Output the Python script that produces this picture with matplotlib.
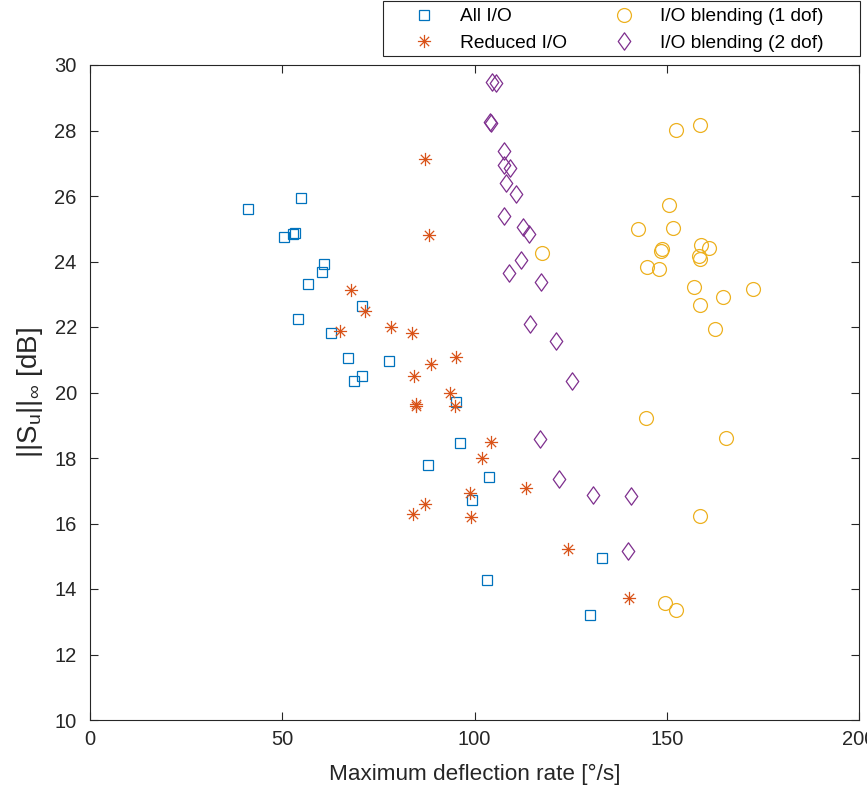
import numpy as np
import matplotlib
matplotlib.use("Agg")
import matplotlib.pyplot as plt
from matplotlib.path import Path
from matplotlib.patches import Rectangle

plt.rcParams['font.family'] = ['Liberation Sans', 'DejaVu Sans']
plt.rcParams['mathtext.fontset'] = 'custom'
plt.rcParams['mathtext.rm'] = 'Liberation Sans'
plt.rcParams['mathtext.it'] = 'Liberation Sans'
plt.rcParams['mathtext.default'] = 'regular'

# ---- data ----
all_io_x = [41.0, 50.4, 52.9, 53.2, 54.8, 60.3, 60.8, 56.7, 70.7, 54.1, 62.7, 67.0,
            68.6, 70.8, 77.7, 88.0, 95.1, 96.3, 103.7, 99.4, 133.2, 103.3, 130.1]
all_io_y = [25.61, 24.76, 24.83, 24.87, 25.95, 23.68, 23.91, 23.32, 22.64, 22.24, 21.81, 21.05,
            20.34, 20.51, 20.97, 17.78, 19.70, 18.46, 17.43, 16.72, 14.94, 14.27, 13.21]

reduced_x = [87.2, 88.1, 67.8, 71.4, 65.0, 78.2, 83.8, 84.2, 88.7, 84.7, 84.9, 95.1,
             93.6, 94.9, 104.3, 101.9, 98.8, 99.2, 83.9, 87.1, 113.5, 124.2, 140.1]
reduced_y = [27.14, 24.82, 23.12, 22.49, 21.88, 22.01, 21.83, 20.50, 20.86, 19.60, 19.64, 21.08,
             19.98, 19.59, 18.49, 18.00, 16.93, 16.21, 16.30, 16.60, 17.08, 15.21, 13.73]

blend1_x = [152.4, 158.7, 150.5, 142.5, 151.5, 117.6, 148.8, 148.4, 158.9, 160.9, 158.3, 158.6,
            144.9, 148.1, 157.0, 172.5, 164.5, 158.6, 162.5, 144.7, 165.5, 158.7, 149.5, 152.4]
blend1_y = [28.02, 28.18, 25.73, 25.00, 25.03, 24.25, 24.39, 24.33, 24.49, 24.42, 24.17, 24.07,
            23.83, 23.76, 23.21, 23.16, 22.93, 22.67, 21.93, 19.23, 18.62, 16.24, 13.57, 13.37]

blend2_x = [104.5, 105.6, 104.0, 104.3, 107.6, 107.6, 109.3, 108.3, 110.8, 107.8, 112.6, 114.2,
            112.2, 109.0, 117.4, 114.4, 121.2, 125.4, 117.1, 122.0, 130.9, 140.7, 139.9]
blend2_y = [29.48, 29.44, 28.26, 28.22, 27.38, 26.94, 26.86, 26.39, 26.06, 25.39, 25.04, 24.83,
            24.05, 23.65, 23.37, 22.10, 21.57, 20.34, 18.59, 17.35, 16.86, 16.85, 15.17]

labels = ['All I/O', 'Reduced I/O', 'I/O blending (1 dof)', 'I/O blending (2 dof)']
colors = ['#0072BD', '#D95319', '#EDB120', '#7E2F8E']
x_ticks = [0, 50, 100, 150, 200]
y_ticks = [10, 12, 14, 16, 18, 20, 22, 24, 26, 28, 30]

# ---- markers ----
M, L = Path.MOVETO, Path.LINETO
c = 0.7071
star = Path([(-1, 0), (1, 0), (0, -1), (0, 1), (-c, -c), (c, c), (-c, c), (c, -c)],
            [M, L, M, L, M, L, M, L])
diamond = Path([(0, 1), (0.72, 0), (0, -1), (-0.72, 0), (0, 1)], [M, L, L, L, Path.CLOSEPOLY])

W, H = 867, 793
fig = plt.figure(figsize=(W / 100, H / 100), dpi=100)
ax = fig.add_axes([90 / W, 1 - 720 / H, (859 - 90) / W, (720 - 65) / H])

lw = 0.9
h1, = ax.plot(all_io_x, all_io_y, ls='none', marker='s', ms=7.6, mfc='none', mec=colors[0], mew=lw, label=labels[0])
h2, = ax.plot(reduced_x, reduced_y, ls='none', marker=star, ms=9.5, mfc='none', mec=colors[1], mew=lw, label=labels[1])
h3, = ax.plot(blend1_x, blend1_y, ls='none', marker='o', ms=10, mfc='none', mec=colors[2], mew=lw, label=labels[2])
h4, = ax.plot(blend2_x, blend2_y, ls='none', marker=diamond, ms=12.5, mfc='none', mec=colors[3], mew=lw, label=labels[3])

ax.set_xlim(0, 200)
ax.set_ylim(10, 30)
ax.set_xticks(x_ticks)
ax.set_yticks(y_ticks)
ax.tick_params(direction='in', length=6, width=0.8, colors='#262626', labelsize=14.5,
               top=True, right=True)
ax.tick_params(axis='x', pad=7.5)
ax.tick_params(axis='y', pad=9.5)
for s in ax.spines.values():
    s.set_color('#262626')
    s.set_linewidth(0.8)

ax.set_xlabel('Maximum deflection rate [°/s]', fontsize=16.2, color='#262626', labelpad=10.5)
ax.set_ylabel(r'$||S_u||_\infty$ [dB]', fontsize=20, color='#262626', labelpad=6.5)

# legend box (drawn in figure pixels converted to fractions)
fig.add_artist(Rectangle((383 / W, 1 - 56 / H), 477 / W, 55 / H, transform=fig.transFigure,
                         facecolor='white', edgecolor='#262626', linewidth=0.8, zorder=1))
leg = fig.legend([h1, h2, h3, h4], labels, ncol=2, loc='upper left',
                 bbox_to_anchor=(409.6 / W, 1 - 8 / H), fontsize=13.8, frameon=False,
                 borderpad=0, borderaxespad=0, columnspacing=2.22, handletextpad=1.13,
                 labelspacing=0.46, handlelength=1.5)
leg.set_zorder(2)

fig.savefig('out.png', dpi=100)
